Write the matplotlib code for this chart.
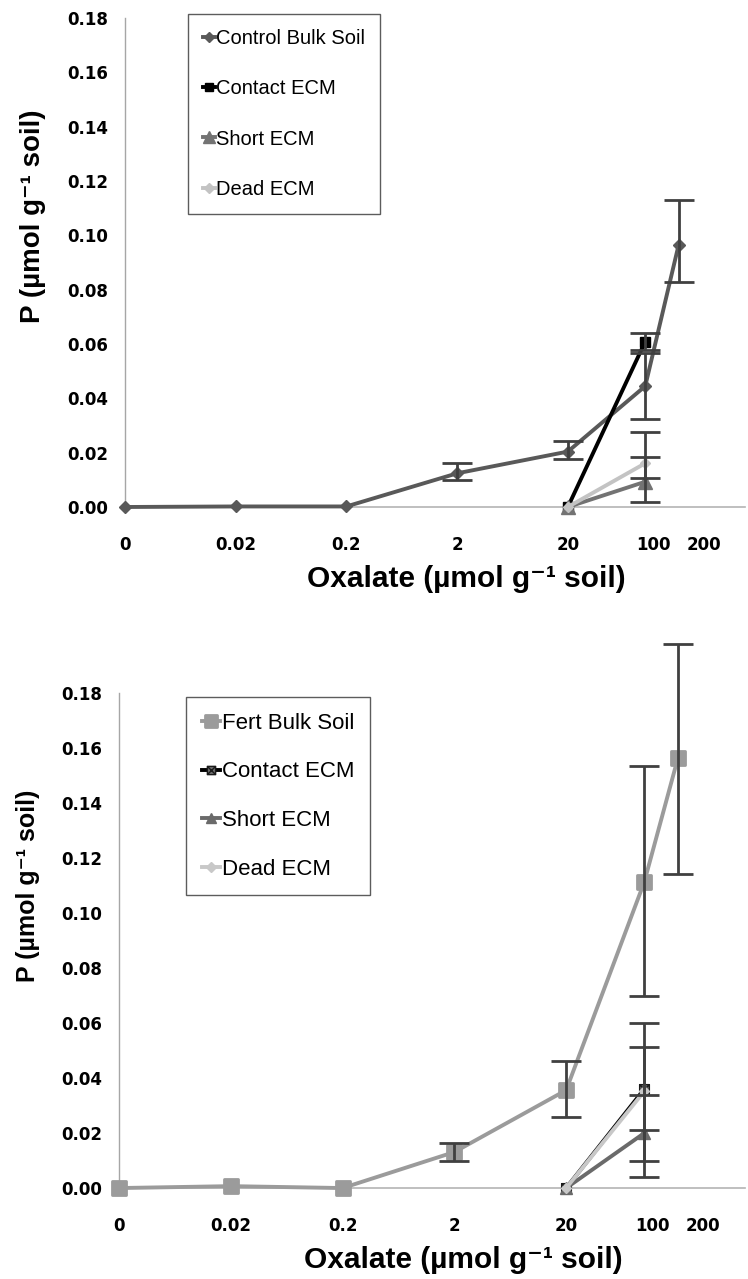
import numpy as np
import matplotlib
matplotlib.use("Agg")
import matplotlib.pyplot as plt
from matplotlib.path import Path
from matplotlib.markers import MarkerStyle
from matplotlib.transforms import ScaledTranslation

# ---------------- data ----------------
oxalate = [0, 0.02, 0.2, 2, 20, 100, 200]
tick_labels = ["0", "0.02", "0.2", "2", "20", "100", "200"]

# Unfertilised plots
ctrl_bulk = [0.0, 0.0002, 0.0002, 0.0124, 0.0204, 0.0445, 0.0964]
ctrl_bulk_lo = [0, 0, 0, 0.0025, 0.0028, 0.0122, 0.0136]
ctrl_bulk_hi = [0, 0, 0, 0.0037, 0.0040, 0.0122, 0.0166]

ecm_conc = [20, 100]
ctrl_contact = [0.0, 0.0609]
ctrl_contact_lo = [0, 0.0030]
ctrl_contact_hi = [0, 0.0030]
ctrl_short = [0.0, 0.0093]
ctrl_short_lo = [0, 0.0074]
ctrl_short_hi = [0, 0.0092]
ctrl_dead = [0.0, 0.0161]
ctrl_dead_lo = [0, 0.0053]
ctrl_dead_hi = [0, 0.0114]

# Fertilised plots
fert_bulk = [0.0, 0.0007, 0.0, 0.0131, 0.0356, 0.1113, 0.1564]
fert_bulk_lo = [0, 0, 0, 0.0033, 0.0098, 0.0415, 0.0422]
fert_bulk_hi = [0, 0, 0, 0.0033, 0.0106, 0.0422, 0.0414]
fert_contact = [0.0, 0.0360]
fert_contact_lo = [0, 0.0262]
fert_contact_hi = [0, 0.0240]
fert_short = [0.0, 0.0200]
fert_short_lo = [0, 0.0160]
fert_short_hi = [0, 0.0138]
fert_dead = [0.0, 0.0352]
fert_dead_lo = [0, 0.0141]
fert_dead_hi = [0, 0.0161]

yticks = np.arange(0, 0.181, 0.02)

# ---------------- helpers ----------------
def xpos(conc):
    c = np.asarray(conc, dtype=float)
    return np.log10(np.maximum(c, 0.002) / 0.002)

SUP = "\u207b\u00b9"
FONT_AX = ["Liberation Sans", "DejaVu Sans"]

# square with a cross inside
box_x = Path(
    [(-1, -1), (1, -1), (1, 1), (-1, 1), (-1, -1), (-1, -1), (1, 1), (-1, 1), (1, -1)],
    [Path.MOVETO, Path.LINETO, Path.LINETO, Path.LINETO, Path.CLOSEPOLY,
     Path.MOVETO, Path.LINETO, Path.MOVETO, Path.LINETO],
)
round_square = MarkerStyle("s", joinstyle="round")

ERR_COLOR = "#404040"


def series(ax, conc, vals, lo, hi, label, color, marker, ms, lw=2.8,
           mfc=None, mec=None, mew=1.0, z=3):
    x = xpos(conc)
    y = np.asarray(vals)
    ax.plot(x, y, color=color, lw=lw, marker=marker, ms=ms,
            mfc=mfc or color, mec=mec or color, mew=mew, label=label,
            clip_on=False, zorder=z, solid_joinstyle="round")
    lo = np.asarray(lo)
    hi = np.asarray(hi)
    m = (lo > 0) | (hi > 0)
    if m.any():
        ax.errorbar(x[m], y[m], yerr=[lo[m], hi[m]], fmt="none",
                    ecolor=ERR_COLOR, elinewidth=2.0, capsize=11,
                    capthick=2.0, clip_on=False, zorder=5)


def style_axes(ax, ylabel_size, lab_y):
    ax.set_xlim(0, 5.6)
    ax.set_ylim(0, 0.18)
    ax.set_yticks(yticks)
    ax.set_yticklabels([f"{v:.2f}" for v in yticks])
    ax.set_xticks(xpos(oxalate))
    ax.set_xticklabels(tick_labels)
    for s in ("top", "right"):
        ax.spines[s].set_visible(False)
    ax.spines["left"].set_color("#a6a6a6")
    ax.spines["left"].set_linewidth(1.0)
    ax.spines["bottom"].set_color("#b4b4b4")
    ax.spines["bottom"].set_linewidth(1.2)
    ax.tick_params(axis="both", length=0)
    ax.tick_params(axis="y", pad=12)
    ax.tick_params(axis="x", pad=21)
    for t in ax.get_yticklabels() + ax.get_xticklabels():
        t.set_fontfamily("DejaVu Sans")
        t.set_fontweight("bold")
        t.set_fontsize(12)
    # the two largest concentrations carry labels nudged to the right
    fig = ax.figure
    labs = ax.get_xticklabels()
    labs[5].set_transform(labs[5].get_transform() + ScaledTranslation(6 / 72, 0, fig.dpi_scale_trans))
    labs[6].set_transform(labs[6].get_transform() + ScaledTranslation(18 / 72, 0, fig.dpi_scale_trans))
    ax.set_ylabel(f"P (\u00b5mol g{SUP} soil)", family=FONT_AX,
                  fontweight="bold", fontsize=ylabel_size)
    ax.yaxis.set_label_coords(-0.127, lab_y)
    ax.set_xlabel(f"Oxalate (\u00b5mol g{SUP} soil)", family=FONT_AX,
                  fontweight="bold", fontsize=21.5, labelpad=8)
    ax.xaxis.label.set_x(0.55)


fig = plt.figure(figsize=(7.48, 12.79), dpi=100)

# ---------------- unfertilised ----------------
ax1 = fig.add_axes([0.1671, 0.6036, 0.8289, 0.3823])
series(ax1, oxalate, ctrl_bulk, ctrl_bulk_lo, ctrl_bulk_hi,
       "Control Bulk Soil", "#595959", "D", 6)
series(ax1, ecm_conc, ctrl_contact, ctrl_contact_lo, ctrl_contact_hi,
       "Contact ECM", "#000000", "s", 7)
series(ax1, ecm_conc, ctrl_short, ctrl_short_lo, ctrl_short_hi,
       "Short ECM", "#737373", "^", 9.5)
series(ax1, ecm_conc, ctrl_dead, ctrl_dead_lo, ctrl_dead_hi,
       "Dead ECM", "#c3c3c3", "D", 5.5)
style_axes(ax1, 20, 0.595)

leg1 = ax1.legend(loc="upper left", bbox_to_anchor=(188 / 748, 1 - 14 / 1279),
                  bbox_transform=fig.transFigure, frameon=True, fancybox=False,
                  edgecolor="#333333", prop={"family": "Liberation Sans", "size": 14.5},
                  handlelength=0.6, handletextpad=0.05, borderpad=0.75,
                  borderaxespad=0, labelspacing=1.55, markerscale=0.85)
leg1.get_frame().set_linewidth(1.0)

# ---------------- fertilised ----------------
ax2 = fig.add_axes([0.1591, 0.0711, 0.8369, 0.3870])
series(ax2, oxalate, fert_bulk, fert_bulk_lo, fert_bulk_hi,
       "Fert Bulk Soil", "#9b9b9b", round_square, 10, mew=2.0)
series(ax2, ecm_conc, fert_contact, fert_contact_lo, fert_contact_hi,
       "Contact ECM", "#000000", box_x, 7, mfc="#6e6e6e", mec="#1a1a1a")
series(ax2, ecm_conc, fert_short, fert_short_lo, fert_short_hi,
       "Short ECM", "#6a6a6a", "^", 9)
series(ax2, ecm_conc, fert_dead, fert_dead_lo, fert_dead_hi,
       "Dead ECM", "#c8c8c8", "D", 5.5)
style_axes(ax2, 18, 0.61)

leg2 = ax2.legend(loc="upper left", bbox_to_anchor=(186 / 748, 1 - 697 / 1279),
                  bbox_transform=fig.transFigure, frameon=True, fancybox=False,
                  edgecolor="#333333", prop={"family": "Liberation Sans", "size": 16},
                  handlelength=0.85, handletextpad=0.05, borderpad=0.7,
                  borderaxespad=0, labelspacing=1.25, markerscale=0.85)
leg2.get_frame().set_linewidth(1.0)

fig.savefig("out.png", dpi=100, facecolor="white")
